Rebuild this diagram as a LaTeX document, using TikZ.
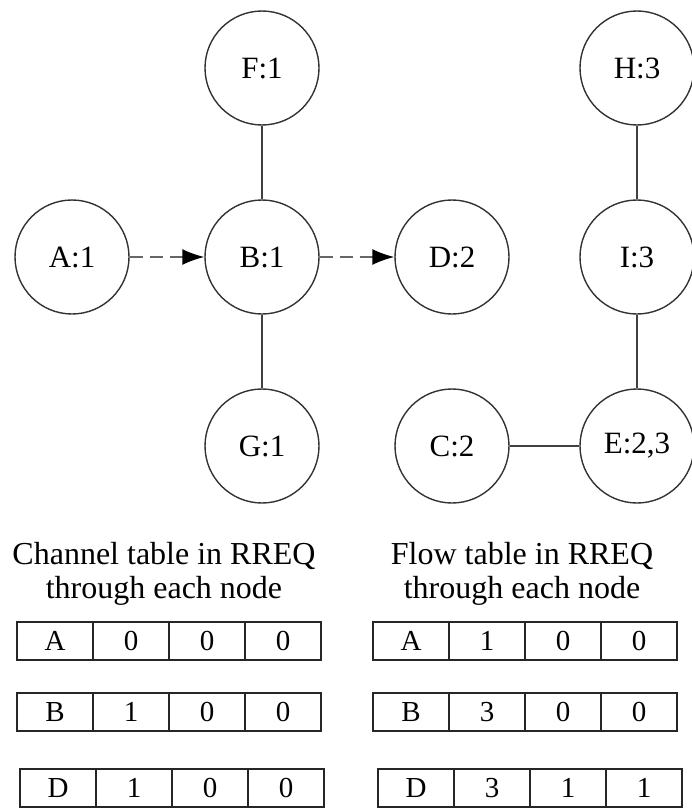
\documentclass[tikz,border=0pt]{standalone}
\usepackage{fontspec}
\setmainfont{Liberation Serif}
\usetikzlibrary{arrows.meta,positioning}
\tikzset{nd/.style={circle,draw=black!80,line width=1.4pt,minimum size=114pt,inner sep=0pt,font=\fontsize{31}{34}\selectfont},
 cell/.style={draw=black!85,line width=1.4pt,minimum width=76pt,minimum height=38pt,inner sep=0pt,outer sep=0pt,font=\fontsize{29}{32}\selectfont},
 link/.style={line width=1.4pt,draw=black!75},
 req/.style={line width=1.6pt,draw=black!60,dash pattern=on 13pt off 7pt,-{Latex[length=22pt,width=16pt,color=black]}},
 ttl/.style={align=center,font=\fontsize{32}{34}\selectfont}}
\begin{document}
\begin{tikzpicture}[x=1pt,y=-1pt]
\useasboundingbox (0,0) rectangle (692,808);
% route graph
\node[nd](f) at (262,68){F:1};\node[nd](h) at (637,68){H:3};
\node[nd](a) at (72,257){A:1};\node[nd](b) at (262,257){B:1};
\node[nd](d) at (452,257){D:2};\node[nd](i) at (637,257){I:3};
\node[nd](g) at (262,446){G:1};\node[nd](c) at (452,446){C:2};\node[nd](e) at (637,446){E:2,3};
\draw[link](f)--(b)--(g);\draw[link](h)--(i)--(e);\draw[link](c)--(e);
\draw[req](a)--(b);\draw[req](b)--(d);
% tables
\node[ttl](ct) at (164,574){Channel table in RREQ\\through each node};
\node[ttl](ft) at (522,574){Flow table in RREQ\\through each node};
\foreach \r/\x/\y/\p/\q/\s in {A/17/641/0/0/0,B/17/712/1/0/0,D/20/788/1/0/0}{
 \node[cell,anchor=west](ch\r0) at (\x,\y){\r};\node[cell,right=0pt of ch\r0](ch\r1){\p};
 \node[cell,right=0pt of ch\r1](ch\r2){\q};\node[cell,right=0pt of ch\r2](ch\r3){\s};}
\foreach \r/\x/\y/\p/\q/\s in {A/373/641/1/0/0,B/373/712/3/0/0,D/378/788/3/1/1}{
 \node[cell,anchor=west](fl\r0) at (\x,\y){\r};\node[cell,right=0pt of fl\r0](fl\r1){\p};
 \node[cell,right=0pt of fl\r1](fl\r2){\q};\node[cell,right=0pt of fl\r2](fl\r3){\s};}
\end{tikzpicture}
\end{document}
